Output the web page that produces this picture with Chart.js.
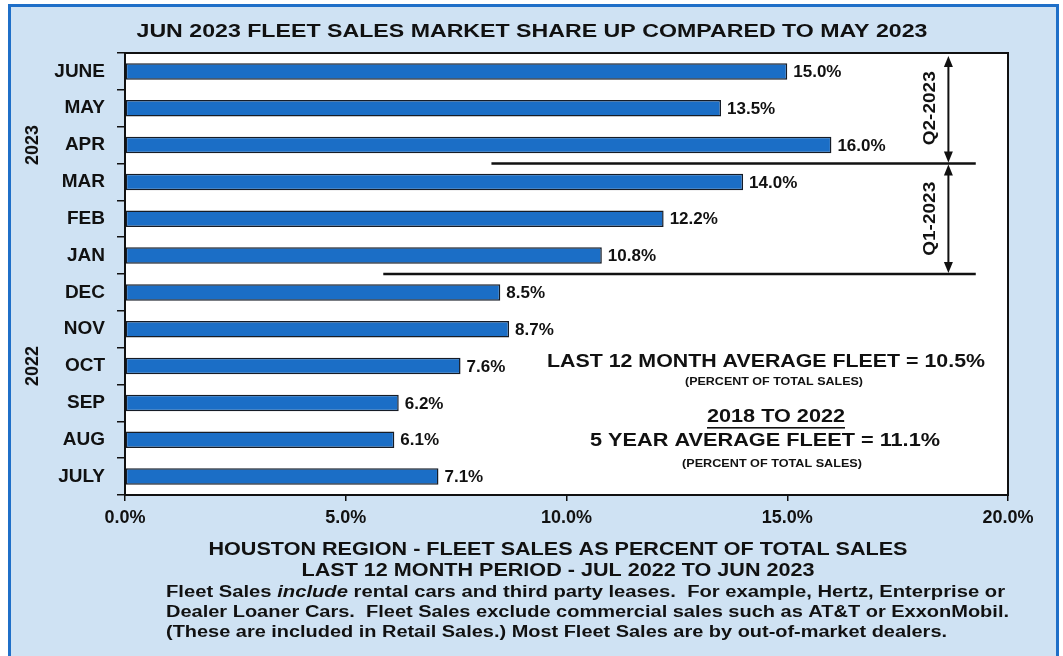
<!DOCTYPE html>
<html>
<head>
<meta charset="utf-8">
<script src="https://cdn.jsdelivr.net/npm/chart.js@4.4.0/dist/chart.umd.min.js"></script>
<style>
  html, body { margin: 0; padding: 0; background: #fff; }
  #wrap { width: 1063px; height: 656px; }
</style>
</head>
<body>
<div id="wrap"><canvas id="chart" width="1063" height="656"></canvas></div>
<script>
// data, top bar first
var months = ['JUNE', 'MAY', 'APR', 'MAR', 'FEB', 'JAN', 'DEC', 'NOV', 'OCT', 'SEP', 'AUG', 'JULY'];
var fleetShare = [15.0, 13.5, 16.0, 14.0, 12.2, 10.8, 8.5, 8.7, 7.6, 6.2, 6.1, 7.1];
var xTicks = [0, 5, 10, 15, 20];

var yearLabels = ['2023', '2022'];
var yearAnchors = ['APR', 'OCT'];

var quarterLabels = ['Q2-2023', 'Q1-2023'];
var quarterFrom = [-0.5, 2.5];   // category boundaries (index units)
var quarterTo = [2.5, 5.5];
var quarterLineStart = [8.3, 5.85]; // where the separator line begins, in %

var titleText = 'JUN 2023 FLEET SALES MARKET SHARE UP COMPARED TO MAY 2023';
var avgLines = ['LAST 12 MONTH AVERAGE FLEET = 10.5%', '(PERCENT OF TOTAL SALES)', '2018 TO 2022', '5 YEAR AVERAGE FLEET = 11.1%', '(PERCENT OF TOTAL SALES)'];
var footHeads = ['HOUSTON REGION - FLEET SALES AS PERCENT OF TOTAL SALES', 'LAST 12 MONTH PERIOD - JUL 2022 TO JUN 2023'];
var footNotes = [
    [['Fleet Sales ', false], ['include', true], [' rental cars and third party leases.  For example, Hertz, Enterprise or', false]],
    [['Dealer Loaner Cars.  Fleet Sales exclude commercial sales such as AT&T or ExxonMobil.', false]],
    [['(These are included in Retail Sales.) Most Fleet Sales are by out-of-market dealers.', false]]
];

var FONT = '"Liberation Sans", Arial, sans-serif';
var INK = '#111111';

// draw text squeezed/stretched to a given width
function fitText(ctx, text, x, y, width, font, align) {
    ctx.font = font;
    var w = ctx.measureText(text).width;
    ctx.save();
    ctx.translate(align === 'left' ? x : x - width / 2, y);
    ctx.scale(width / w, 1);
    ctx.textAlign = 'left';
    ctx.textBaseline = 'middle';
    ctx.fillText(text, 0, 0);
    ctx.restore();
}

function richLine(ctx, segs, x, y, width, size) {
    var total = 0;
    segs.forEach(function(s) {
        ctx.font = (s[1] ? 'italic ' : '') + 'bold ' + size + 'px ' + FONT;
        total += ctx.measureText(s[0]).width;
    });
    var k = width / total;
    ctx.save();
    ctx.translate(x, y);
    ctx.scale(k, 1);
    ctx.textAlign = 'left';
    ctx.textBaseline = 'middle';
    var cx = 0;
    segs.forEach(function(s) {
        ctx.font = (s[1] ? 'italic ' : '') + 'bold ' + size + 'px ' + FONT;
        ctx.fillText(s[0], cx, 0);
        cx += ctx.measureText(s[0]).width;
    });
    ctx.restore();
}

function arrow(ctx, x, y1, y2) {
    ctx.beginPath();
    ctx.moveTo(x, y1 + 8);
    ctx.lineTo(x, y2 - 8);
    ctx.stroke();
    ctx.beginPath();
    ctx.moveTo(x, y1);
    ctx.lineTo(x - 4.5, y1 + 11);
    ctx.lineTo(x + 4.5, y1 + 11);
    ctx.closePath();
    ctx.fill();
    ctx.beginPath();
    ctx.moveTo(x, y2);
    ctx.lineTo(x - 4.5, y2 - 11);
    ctx.lineTo(x + 4.5, y2 - 11);
    ctx.closePath();
    ctx.fill();
}

var decor = {
    id: 'decor',
    beforeDraw: function(chart) {
        var ctx = chart.ctx, a = chart.chartArea;
        ctx.save();
        ctx.fillStyle = '#ffffff';
        ctx.fillRect(0, 0, chart.width, chart.height);
        ctx.fillStyle = '#cfe2f3';
        ctx.fillRect(9, 5, 1049, 670);
        ctx.strokeStyle = '#1f6fc8';
        ctx.lineWidth = 3;
        ctx.strokeRect(9.5, 5.5, 1048, 670);
        ctx.fillStyle = '#ffffff';
        ctx.fillRect(a.left, a.top, a.right - a.left, a.bottom - a.top);
        ctx.restore();
    },
    afterDraw: function(chart) {
        var ctx = chart.ctx, a = chart.chartArea;
        var xs = chart.scales.x, ys = chart.scales.y;
        ctx.save();

        // plot frame
        ctx.strokeStyle = '#111';
        ctx.lineWidth = 2;
        ctx.strokeRect(a.left, a.top, a.right - a.left, a.bottom - a.top);

        ctx.fillStyle = INK;

        // value labels
        var meta = chart.getDatasetMeta(0);
        ctx.font = 'bold 17px ' + FONT;
        ctx.textAlign = 'left';
        ctx.textBaseline = 'middle';
        meta.data.forEach(function(bar, i) {
            ctx.fillText(fleetShare[i].toFixed(1) + '%', bar.x + 6, bar.y + 1);
        });

        // year labels, rotated
        ctx.font = 'bold 18px ' + FONT;
        ctx.textAlign = 'center';
        yearLabels.forEach(function(t, i) {
            var y = ys.getPixelForValue(months.indexOf(yearAnchors[i]));
            ctx.save();
            ctx.translate(33, y);
            ctx.rotate(-Math.PI / 2);
            ctx.fillText(t, 0, 0);
            ctx.restore();
        });

        // quarter separators and arrows
        ctx.strokeStyle = '#111';
        quarterLabels.forEach(function(q, i) {
            var yTop = ys.getPixelForValue(quarterFrom[i]);
            var yBot = ys.getPixelForValue(quarterTo[i]);
            ctx.lineWidth = 2.5;
            ctx.beginPath();
            ctx.moveTo(xs.getPixelForValue(quarterLineStart[i]), yBot);
            ctx.lineTo(xs.getPixelForValue(19.27), yBot);
            ctx.stroke();
            var ax = xs.getPixelForValue(18.65);
            ctx.lineWidth = 2;
            arrow(ctx, ax, yTop + (i === 0 ? 3 : 1), yBot - 1);
            ctx.save();
            ctx.translate(ax - 18, (yTop + yBot) / 2);
            ctx.rotate(-Math.PI / 2);
            fitText(ctx, q, 0, 0, 74, 'bold 17px ' + FONT);
            ctx.restore();
        });

        // averages block
        fitText(ctx, avgLines[0], 766, 362, 438, 'bold 19px ' + FONT);
        fitText(ctx, avgLines[1], 774, 382, 178, 'bold 10px ' + FONT);
        fitText(ctx, avgLines[2], 776, 417, 138, 'bold 19px ' + FONT);
        ctx.fillRect(707, 427, 138, 1.6);
        fitText(ctx, avgLines[3], 765, 441, 350, 'bold 19px ' + FONT);
        fitText(ctx, avgLines[4], 772, 464, 180, 'bold 10px ' + FONT);

        // title
        fitText(ctx, titleText, 532, 32, 791, 'bold 18px ' + FONT);

        // footer
        fitText(ctx, footHeads[0], 558, 550, 699, 'bold 18px ' + FONT);
        fitText(ctx, footHeads[1], 558, 571, 513, 'bold 18px ' + FONT);
        var noteW = [839, 843, 781];
        footNotes.forEach(function(segs, i) {
            richLine(ctx, segs, 166, 593 + i * 20, noteW[i], 16);
        });

        ctx.restore();
    }
};

var ctx = document.getElementById('chart').getContext('2d');
var chart = new Chart(ctx, {
    type: 'bar',
    data: {
        labels: months,
        datasets: [{
            label: 'Fleet share',
            data: fleetShare,
            backgroundColor: '#1b6ec6',
            borderColor: '#161c26',
            borderWidth: 1.5,
            borderSkipped: false,
            categoryPercentage: 1,
            barPercentage: 0.45
        }]
    },
    options: {
        indexAxis: 'y',
        responsive: false,
        animation: false,
        layout: { padding: { top: 53, right: 55, left: 0, bottom: 0 } },
        plugins: {
            legend: { display: false },
            title: { display: false },
            tooltip: { enabled: false }
        },
        scales: {
            x: {
                min: 0,
                max: 20,
                afterFit: function(s) { s.height = 161; },
                afterBuildTicks: function(s) {
                    s.ticks = xTicks.map(function(v) { return { value: v }; });
                },
                grid: { drawOnChartArea: false, drawTicks: true, tickLength: 6, color: '#111', lineWidth: 1.5 },
                border: { display: false },
                ticks: {
                    padding: 6,
                    color: INK,
                    font: { family: FONT, size: 18, weight: 'bold' },
                    callback: function(v) { return Number(v).toFixed(1) + '%'; }
                }
            },
            y: {
                afterFit: function(s) { s.width = 125; },
                grid: { drawOnChartArea: false, drawTicks: true, tickLength: 8, color: '#111', lineWidth: 1.5 },
                border: { display: false },
                ticks: {
                    padding: 12,
                    color: INK,
                    font: { family: FONT, size: 19, weight: 'bold' }
                }
            }
        }
    },
    plugins: [decor]
});
</script>
</body>
</html>
